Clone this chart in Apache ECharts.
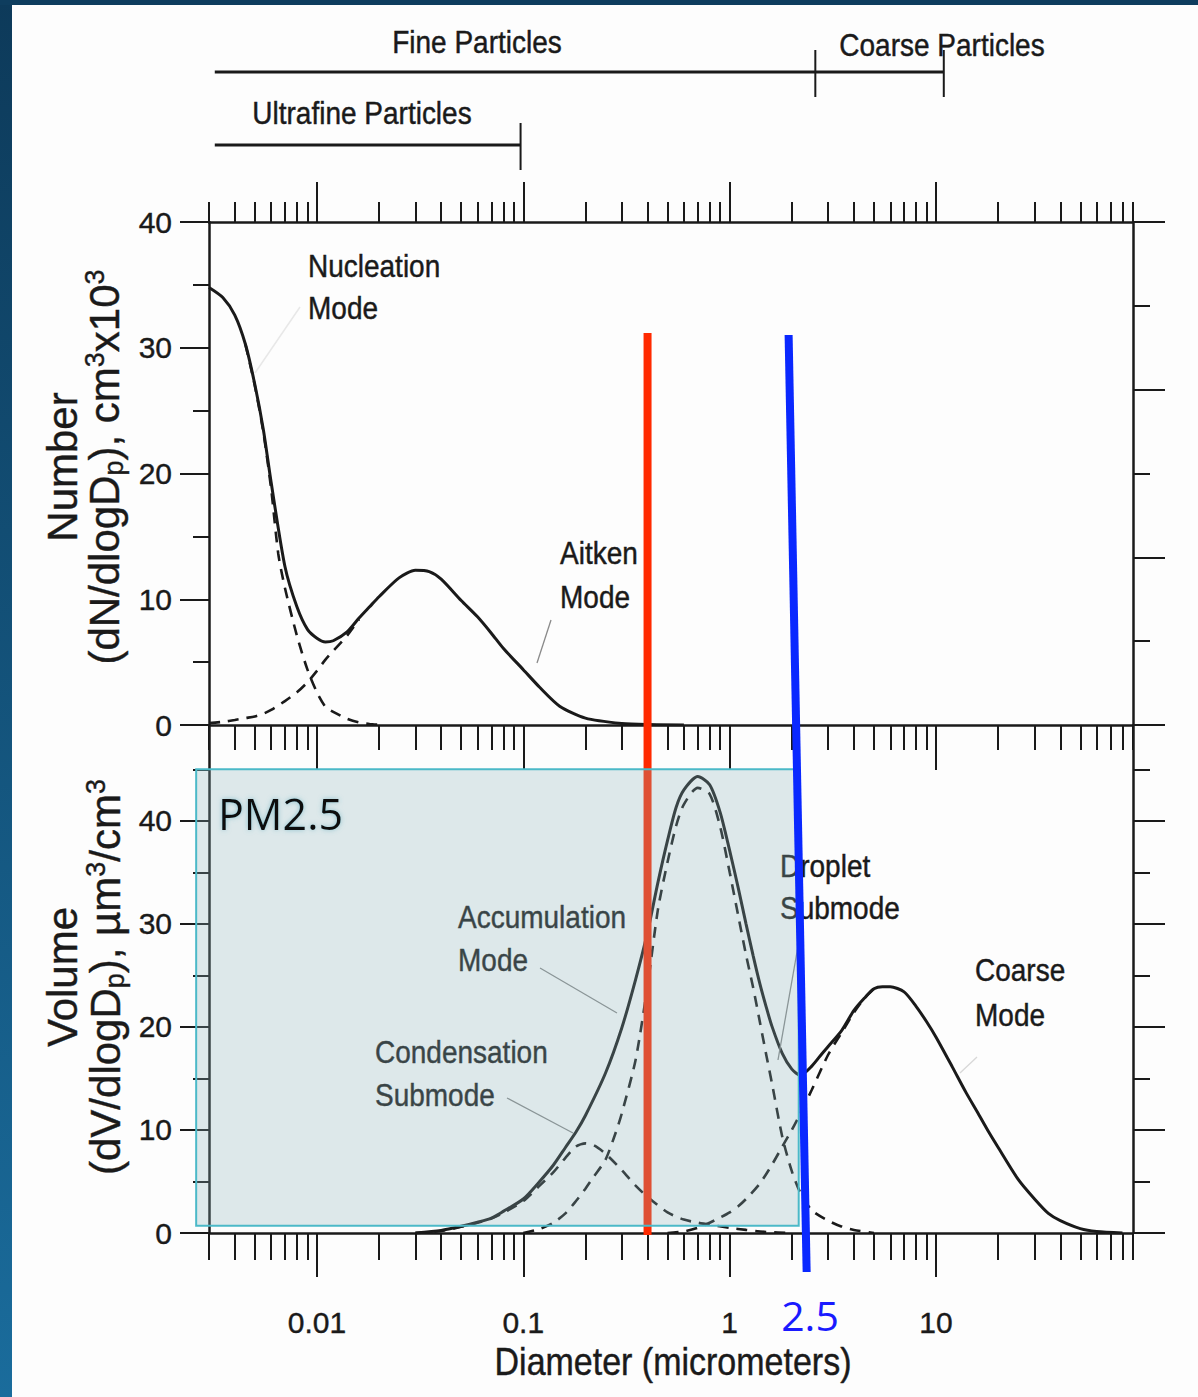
<!DOCTYPE html>
<html>
<head>
<meta charset="utf-8">
<title>Particle size distributions</title>
<script src="https://cdn.jsdelivr.net/npm/echarts@6.0.0/dist/echarts.min.js"></script>
<style>
html,body{margin:0;padding:0;background:#fdfdfd;}
#chart{width:1198px;height:1397px;}
</style>
</head>
<body>
<div id="chart"></div>
<script>
// ================= DATA =================
// x axis: particle diameter (micrometers), log scale
const xDecadeTicks = [0.01, 0.1, 1, 10];
const xTickLabels  = ['0.01', '0.1', '1', '10'];
const xMinorTicks  = [0.003,0.004,0.005,0.006,0.007,0.008,0.009,
                      0.02,0.03,0.04,0.05,0.06,0.07,0.08,0.09,
                      0.2,0.3,0.4,0.5,0.6,0.7,0.8,0.9,
                      2,3,4,5,6,7,8,9,
                      20,30,40,50,60,70,80,90];
const xRange = [0.003, 90];

// top panel: number distribution (dN/dlogDp, x10^3 per cm3)
const numYTicks      = [0, 10, 20, 30, 40];
const numYMinorTicks = [5, 15, 25, 35];
const numRightMajor  = [0, 2, 4, 6];
const numRightMinor  = [1, 3, 5];
const numYMax = 40, numRightMax = 6;

const numberTotal = [[0.003,34.8],[0.0035,34.0],[0.004,32.6],[0.0045,30.3],[0.005,27.1],[0.0055,23.5],
  [0.006,19.3],[0.007,12.6],[0.008,9.4],[0.009,7.6],[0.01,6.9],[0.011,6.6],[0.012,6.7],[0.014,7.4],
  [0.016,8.5],[0.018,9.4],[0.02,10.2],[0.025,11.7],[0.03,12.3],[0.035,12.2],[0.04,11.6],[0.05,9.9],
  [0.06,8.6],[0.07,7.3],[0.08,6.1],[0.1,4.4],[0.12,3.0],[0.15,1.5],[0.2,0.55],[0.3,0.12],[0.4,0.03],[0.6,0]];
const nucleationMode = [[0.0045,30.3],[0.005,27.0],[0.0055,23.3],[0.006,18.8],[0.0065,13.6],
  [0.007,10.9],[0.008,7.1],[0.009,4.4],[0.01,2.6],[0.011,1.45],[0.012,1.05],[0.014,0.5],[0.016,0.2],
  [0.018,0.08],[0.02,0.02]];
const aitkenMode = [[0.003,0.15],[0.0035,0.25],[0.004,0.4],[0.0045,0.55],[0.005,0.68],[0.0055,0.9],
  [0.006,1.2],[0.007,1.9],[0.008,2.6],[0.009,3.4],[0.01,4.3],[0.011,5.2],[0.012,5.9],[0.014,7.1],[0.016,8.4]];

// bottom panel: volume distribution (dV/dlogDp, um3/cm3)
const volYTicks      = [0, 10, 20, 30, 40];
const volYMinorTicks = [5, 15, 25, 35, 45];
const volYMax = 49.3;

const volumeTotal = [[0.03,0],[0.04,0.25],[0.05,0.65],[0.06,1.05],[0.07,1.45],[0.08,2.1],[0.1,3.3],
  [0.12,5.0],[0.14,6.6],[0.16,8.3],[0.18,9.8],[0.2,11.4],[0.25,15.5],[0.3,19.9],[0.35,24.6],[0.4,29.2],
  [0.45,34.1],[0.5,38.1],[0.55,41.3],[0.6,43.0],[0.7,44.3],[0.8,43.5],[0.9,40.8],[1.0,37.1],[1.1,33.5],
  [1.2,30.0],[1.3,26.9],[1.4,24.2],[1.5,22.0],[1.6,20.1],[1.8,17.4],[2.0,15.9],[2.2,15.3],[2.5,16.2],
  [2.8,17.4],[3.0,18.1],[3.5,19.7],[4.0,21.6],[4.5,22.8],[5.0,23.7],[5.5,23.9],[6.0,23.9],[7.0,23.4],
  [8.0,22.0],[9.0,20.5],[10,19.0],[12,16.1],[14,13.6],[16,11.6],[18,9.8],[20,8.3],[25,5.2],[30,3.3],
  [35,1.9],[40,1.2],[50,0.43],[60,0.15],[80,0]];
const condensationSubmode = [[0.03,0],[0.04,0.2],[0.05,0.6],[0.06,1.0],[0.07,1.4],[0.08,1.95],[0.1,3.1],
  [0.12,4.6],[0.14,5.9],[0.16,7.3],[0.18,8.4],[0.2,8.7],[0.22,8.5],[0.25,7.7],[0.3,6.1],[0.35,4.6],
  [0.4,3.5],[0.5,2.0],[0.6,1.3],[0.7,1.0],[0.8,0.8],[1.0,0.5],[1.2,0.3],[1.5,0.1],[2.0,0]];
const dropletSubmode = [[0.1,0],[0.12,0.4],[0.14,1.0],[0.16,1.9],[0.18,3.1],[0.2,4.3],[0.22,5.5],
  [0.25,7.1],[0.28,9.7],[0.3,11.6],[0.35,16.8],[0.4,24.0],[0.45,31.5],[0.5,36.0],[0.55,39.5],[0.6,41.6],
  [0.7,43.2],[0.8,42.6],[0.9,39.4],[1.0,35.0],[1.1,30.8],[1.2,27.0],[1.3,23.8],[1.4,20.5],[1.5,17.4],
  [1.6,14.6],[1.8,9.3],[2.0,6.0],[2.2,3.9],[2.5,2.2],[3.0,1.2],[3.5,0.6],[4.0,0.3],[5.0,0]];
const coarseMode = [[0.5,0],[0.6,0.15],[0.7,0.5],[0.8,1.0],[0.9,1.5],[1.0,2.0],[1.1,2.6],[1.2,3.3],
  [1.4,4.8],[1.6,6.6],[1.8,8.4],[2.0,10.0],[2.2,11.6],[2.5,13.9],[3.0,17.3],[3.5,19.5],[4.0,21.4],
  [4.5,22.8],[5.0,23.7]];

// particle size classes drawn as brackets above the plot (diameter ranges)
const rangeNames = ['Fine Particles', 'Coarse Particles', 'Ultrafine Particles'];
const rangeFrom  = [0.0032, 2.6, 0.0032];
const rangeTo    = [2.6, 10.9, 0.097];

// overlay annotations (diameters)
const redLineD   = 0.4;
const blueLineD  = [1.93, 2.36];          // top end, bottom end (hand-drawn, slanted)
const pm25BoxD   = [0.0026, 2.16];
const pm25BoxV   = [0.7, 45];

// ================= STYLE / LAYOUT =================
const FONT = '"Liberation Sans", Arial, Helvetica, sans-serif';
const FONT2 = '"Open Sans", "Noto Sans", sans-serif';
const INK = '#1a1a1a';
const G0 = {left: 209, top: 222, width: 924, height: 503};
const G1 = {left: 209, top: 725, width: 924, height: 508};

function xAxis(grid, pos, ticks, len, line, labels) {
  return {
    type: 'log', logBase: 10, gridIndex: grid, position: pos, min: xRange[0], max: xRange[1],
    axisLine: {show: line, onZero: false, lineStyle: {color: INK, width: 2.5}},
    axisTick: {show: true, inside: false, length: len, customValues: ticks, lineStyle: {color: INK, width: 2}},
    axisLabel: labels ? {
      show: true, customValues: xDecadeTicks, margin: 74, color: INK, fontSize: 30, fontFamily: FONT,
      textBorderColor: INK, textBorderWidth: 0.4,
      formatter: v => {
        const i = xDecadeTicks.findIndex(t => Math.abs(Math.log10(t) - Math.log10(v)) < 1e-6);
        return i >= 0 ? xTickLabels[i] : '';
      }
    } : {show: false},
    splitLine: {show: false}, minorTick: {show: false}, minorSplitLine: {show: false}
  };
}
function yAxis(grid, pos, max, ticks, len, line, labels) {
  return {
    type: 'value', gridIndex: grid, position: pos, min: 0, max: max,
    axisLine: {show: line, onZero: false, lineStyle: {color: INK, width: 2.5}},
    axisTick: {show: true, inside: false, length: len, customValues: ticks, lineStyle: {color: INK, width: 2}},
    axisLabel: labels ? {show: true, customValues: ticks, margin: 37, color: INK, fontSize: 30, fontFamily: FONT,
                         textBorderColor: INK, textBorderWidth: 0.4}
                      : {show: false},
    splitLine: {show: false}
  };
}

function curve(data, xi, yi, dashed) {
  return {
    type: 'line', data: data, xAxisIndex: xi, yAxisIndex: yi, showSymbol: false, symbol: 'none',
    smooth: 0.25, z: 2, silent: true, clip: true,
    lineStyle: dashed ? {color: INK, width: 2.6, type: [11, 8]} : {color: INK, width: 3}
  };
}

// text helper (graphic text)
function T(text, x, y, o) {
  o = o || {};
  return {
    type: 'text', x: x, y: y, z: o.z || 3, rotation: o.rot || 0, silent: true,
    scaleX: o.sx || 1, scaleY: o.sy || 1,
    style: {
      text: text, fill: o.color || INK, fontSize: o.size || 28, fontFamily: o.family || FONT,
      textAlign: o.align || 'left', textVerticalAlign: 'middle', rich: o.rich,
      stroke: o.noStroke ? null : (o.color || INK), lineWidth: o.noStroke ? 0 : 0.4,
      textShadowColor: o.shadow || 'transparent', textShadowBlur: o.shadow ? 5 : 0
    }
  };
}
function L(x1, y1, x2, y2, color, w) {
  return {type: 'line', z: 3, silent: true, shape: {x1, y1, x2, y2}, style: {stroke: color, lineWidth: w}};
}

const titleRich = {
  n: {fontSize: 42, fontFamily: FONT, fill: INK, lineHeight: 46},
  s: {fontSize: 27, fontFamily: FONT, fill: INK, lineHeight: 27, verticalAlign: 'bottom'},
  u: {fontSize: 27, fontFamily: FONT, fill: INK, lineHeight: 27, verticalAlign: 'top'}
};

const graphics = [
  // slide frame
  {type: 'rect', z: 0, silent: true, shape: {x: 0, y: 0, width: 12, height: 1397},
   style: {fill: new echarts.graphic.LinearGradient(0, 0, 0, 1, [{offset: 0, color: '#0d3a5a'}, {offset: 1, color: '#1a6c9c'}])}},
  {type: 'rect', z: 0, silent: true, shape: {x: 0, y: 0, width: 1198, height: 5}, style: {fill: '#0e3d5e'}},
  // size-class labels
  T(rangeNames[0], 477, 42, {align: 'center', sy: 1.1}),
  T(rangeNames[1], 942, 45, {align: 'center', sy: 1.1}),
  T(rangeNames[2], 362, 113, {align: 'center', sy: 1.1}),
  // mode annotations
  T('Nucleation', 308, 266, {sy: 1.1}), T('Mode', 308, 308, {sy: 1.1}),
  T('Aitken', 560, 553, {sy: 1.1}), T('Mode', 560, 597, {sy: 1.1}),
  T('Accumulation', 458, 917, {sy: 1.1}), T('Mode', 458, 960, {sy: 1.1}),
  T('Condensation', 375, 1052, {sy: 1.1}), T('Submode', 375, 1095, {sy: 1.1}),
  T('Droplet', 780, 866, {sy: 1.1}), T('Submode', 780, 908, {sy: 1.1}),
  T('Coarse', 975, 970, {sy: 1.1}), T('Mode', 975, 1015, {sy: 1.1}),
  // pointer lines
  L(255, 373, 300, 307, '#e8e8e8', 1.5),
  L(537, 663, 551, 620, '#8a8a8a', 1.3),
  L(540, 968, 617, 1013, '#8a8a8a', 1.3),
  L(507, 1098, 573, 1133, '#8a8a8a', 1.3),
  L(800, 935, 778, 1060, '#8a8a8a', 1.3),
  L(960, 1073, 977, 1057, '#d8d8d8', 1.3),
  // axis titles
  T('{n|Number}', 62, 467, {rot: Math.PI / 2, align: 'center', rich: titleRich}),
  T('{n|(dN/dlogD}{s|p}{n|), cm}{u|3}{n|x10}{u|3}', 104, 467, {rot: Math.PI / 2, align: 'center', rich: titleRich}),
  T('{n|Volume}', 62, 977, {rot: Math.PI / 2, align: 'center', rich: titleRich}),
  T('{n|(dV/dlogD}{s|p}{n|), \u00b5m}{u|3}{n|/cm}{u|3}', 105, 977, {rot: Math.PI / 2, align: 'center', rich: titleRich}),
  T('Diameter (micrometers)', 673, 1362, {align: 'center', size: 34, sy: 1.15}),
  // overlay labels
  T('PM2.5', 218, 813, {size: 43, family: FONT2, color: '#111111', z: 12, noStroke: true, shadow: 'rgba(70,160,180,0.55)'}),
  T('2.5', 810, 1315, {size: 41, family: FONT2, color: '#1a1aff', z: 12, noStroke: true, align: 'center'})
];

const option = {
  animation: false,
  backgroundColor: '#fdfdfd',
  grid: [
    Object.assign({containLabel: false, outerBoundsMode: 'none'}, G0),
    Object.assign({containLabel: false, outerBoundsMode: 'none'}, G1)
  ],
  xAxis: [
    xAxis(0, 'bottom', xMinorTicks, 25, true, false),   // 0
    xAxis(0, 'bottom', xDecadeTicks, 45, false, false), // 1
    xAxis(0, 'top', xMinorTicks, 20, true, false),      // 2
    xAxis(0, 'top', xDecadeTicks, 40, false, false),    // 3
    xAxis(1, 'bottom', xMinorTicks, 27, true, false),   // 4
    xAxis(1, 'bottom', xDecadeTicks, 44, false, true)   // 5
  ],
  yAxis: [
    yAxis(0, 'left', numYMax, numYTicks, 29, true, true),         // 0
    yAxis(0, 'left', numYMax, numYMinorTicks, 16, false, false),  // 1
    yAxis(0, 'right', numRightMax, numRightMajor, 32, true, false), // 2
    yAxis(0, 'right', numRightMax, numRightMinor, 17, false, false),// 3
    yAxis(1, 'left', volYMax, volYTicks, 29, true, true),         // 4
    yAxis(1, 'left', volYMax, volYMinorTicks, 16, false, false),  // 5
    yAxis(1, 'right', volYMax, volYTicks, 32, true, false),       // 6
    yAxis(1, 'right', volYMax, volYMinorTicks, 17, false, false)  // 7
  ],
  graphic: {elements: graphics},
  series: [
    curve(numberTotal, 0, 0, false),
    curve(nucleationMode, 0, 0, true),
    curve(aitkenMode, 0, 0, true),
    curve(volumeTotal, 4, 4, false),
    curve(condensationSubmode, 4, 4, true),
    curve(dropletSubmode, 4, 4, true),
    curve(coarseMode, 4, 4, true),
    // size-class brackets
    {
      type: 'custom', xAxisIndex: 0, yAxisIndex: 0, z: 3, silent: true, clip: false,
      data: rangeFrom.map((d, i) => [d, i]),
      renderItem: function (params, api) {
        const i = params.dataIndex;
        const xa = api.coord([rangeFrom[i], 1])[0];
        const xb = api.coord([rangeTo[i], 1])[0];
        const y = i === 2 ? 145 : 72;
        const st = {stroke: INK, lineWidth: 3};
        return {type: 'group', children: [
          {type: 'line', shape: {x1: xa, y1: y, x2: xb, y2: y}, style: st},
          {type: 'line', shape: {x1: xb, y1: y - 22, x2: xb, y2: y + 25}, style: {stroke: INK, lineWidth: 2}}
        ]};
      }
    },
    // red marker line
    {
      type: 'custom', xAxisIndex: 4, yAxisIndex: 4, z: 4, silent: true, clip: false, data: [[redLineD, 1]],
      renderItem: function (params, api) {
        const x = api.coord([redLineD, 1])[0];
        return {type: 'line', shape: {x1: x, y1: 333, x2: x, y2: 1235}, style: {stroke: '#ff2a00', lineWidth: 8}};
      }
    },
    // PM2.5 shaded box
    {
      type: 'custom', xAxisIndex: 4, yAxisIndex: 4, z: 10, silent: true, clip: false, data: [[1, 1]],
      renderItem: function (params, api) {
        const p0 = api.coord([pm25BoxD[0], pm25BoxV[1]]);
        const p1 = api.coord([pm25BoxD[1], pm25BoxV[0]]);
        return {type: 'rect', shape: {x: p0[0], y: p0[1], width: p1[0] - p0[0], height: p1[1] - p0[1]},
                style: {fill: 'rgba(140,180,185,0.28)', stroke: '#4bb9c8', lineWidth: 2}};
      }
    },
    // blue 2.5 um line
    {
      type: 'custom', xAxisIndex: 4, yAxisIndex: 4, z: 11, silent: true, clip: false, data: [[blueLineD[0], 1]],
      renderItem: function (params, api) {
        const xt = api.coord([blueLineD[0], 1])[0];
        const xb = api.coord([blueLineD[1], 1])[0];
        return {type: 'line', shape: {x1: xt, y1: 335, x2: xb, y2: 1272}, style: {stroke: '#0a28ff', lineWidth: 8}};
      }
    }
  ]
};

const chart = echarts.init(document.getElementById('chart'), null, {renderer: 'svg', width: 1198, height: 1397});
chart.setOption(option);
</script>
</body>
</html>
